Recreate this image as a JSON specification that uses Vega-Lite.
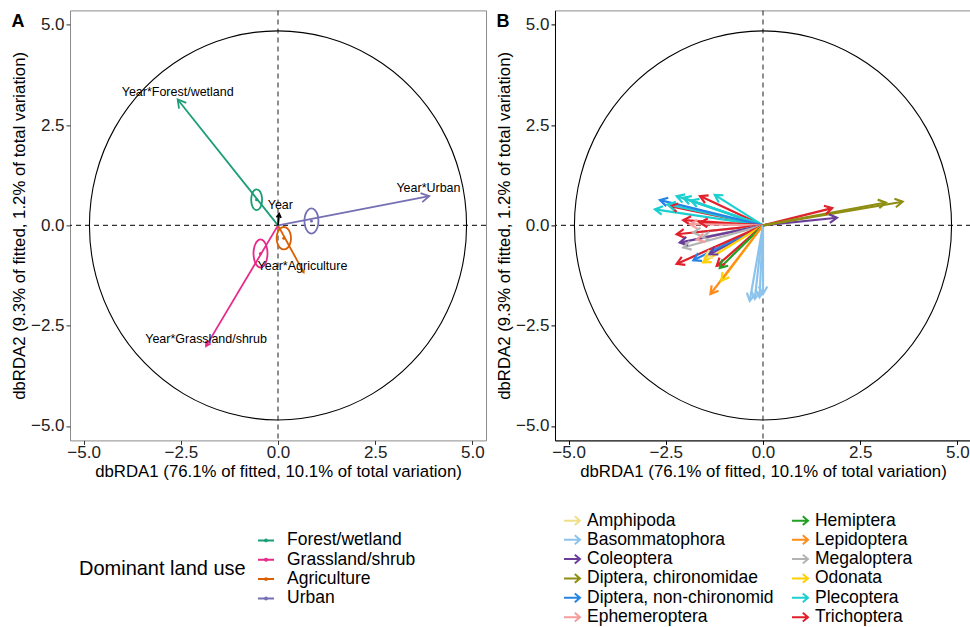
{
"$schema":"https://vega.github.io/schema/vega-lite/v6.json",
"background":"white",
"padding":{"left":10,"top":8.4,"right":0,"bottom":0},
"spacing":7,
"config":{
 "font":"Liberation Sans",
 "view":{"stroke":"#8c8c8c","strokeWidth":1},
 "axis":{"grid":false,"domain":false,"labelFontSize":17,"labelColor":"#222","labelFont":"Liberation Sans","titleFont":"Liberation Sans","titleFontSize":16.8,"titleFontWeight":"normal","titleColor":"#000","tickSize":4,"tickColor":"#333","labelPadding":2,"titlePadding":2,"labelFlush":false,"labelOverlap":false},
 "axisX":{"labelPadding":0,"titlePadding":3.5},
 "legend":{"labelFont":"Liberation Sans","titleFont":"Liberation Sans","labelFontSize":17.5,"labelColor":"#000","padding":0,"rowPadding":1.35,"labelLimit":0}
},
"datasets":{
 "origin":[{"x":0,"y":0}],
 "circle":[
  {"i":0,"x":4.85,"y":0},{"i":1,"x":4.685,"y":1.255},{"i":2,"x":4.2,"y":2.425},{"i":3,"x":3.429,"y":3.429},{"i":4,"x":2.425,"y":4.2},{"i":5,"x":1.255,"y":4.685},
  {"i":6,"x":0,"y":4.85},{"i":7,"x":-1.255,"y":4.685},{"i":8,"x":-2.425,"y":4.2},{"i":9,"x":-3.429,"y":3.429},{"i":10,"x":-4.2,"y":2.425},{"i":11,"x":-4.685,"y":1.255},
  {"i":12,"x":-4.85,"y":0},{"i":13,"x":-4.685,"y":-1.255},{"i":14,"x":-4.2,"y":-2.425},{"i":15,"x":-3.429,"y":-3.429},{"i":16,"x":-2.425,"y":-4.2},{"i":17,"x":-1.255,"y":-4.685},
  {"i":18,"x":0,"y":-4.85},{"i":19,"x":1.255,"y":-4.685},{"i":20,"x":2.425,"y":-4.2},{"i":21,"x":3.429,"y":-3.429},{"i":22,"x":4.2,"y":-2.425},{"i":23,"x":4.685,"y":-1.255}
 ],
 "ellipses":[
  {"landuse":"Forest/wetland","i":0,"x":-0.41,"y":0.64},{"landuse":"Forest/wetland","i":1,"x":-0.429,"y":0.77},{"landuse":"Forest/wetland","i":2,"x":-0.48,"y":0.865},{"landuse":"Forest/wetland","i":3,"x":-0.55,"y":0.9},{"landuse":"Forest/wetland","i":4,"x":-0.62,"y":0.865},{"landuse":"Forest/wetland","i":5,"x":-0.671,"y":0.77},
  {"landuse":"Forest/wetland","i":6,"x":-0.69,"y":0.64},{"landuse":"Forest/wetland","i":7,"x":-0.671,"y":0.51},{"landuse":"Forest/wetland","i":8,"x":-0.62,"y":0.415},{"landuse":"Forest/wetland","i":9,"x":-0.55,"y":0.38},{"landuse":"Forest/wetland","i":10,"x":-0.48,"y":0.415},{"landuse":"Forest/wetland","i":11,"x":-0.429,"y":0.51},
  {"landuse":"Urban","i":0,"x":1.04,"y":0.11},{"landuse":"Urban","i":1,"x":1.016,"y":0.268},{"landuse":"Urban","i":2,"x":0.95,"y":0.383},{"landuse":"Urban","i":3,"x":0.86,"y":0.425},{"landuse":"Urban","i":4,"x":0.77,"y":0.383},{"landuse":"Urban","i":5,"x":0.704,"y":0.268},
  {"landuse":"Urban","i":6,"x":0.68,"y":0.11},{"landuse":"Urban","i":7,"x":0.704,"y":-0.048},{"landuse":"Urban","i":8,"x":0.77,"y":-0.163},{"landuse":"Urban","i":9,"x":0.86,"y":-0.205},{"landuse":"Urban","i":10,"x":0.95,"y":-0.163},{"landuse":"Urban","i":11,"x":1.016,"y":-0.048},
  {"landuse":"Agriculture","i":0,"x":0.335,"y":-0.32},{"landuse":"Agriculture","i":1,"x":0.31,"y":-0.18},{"landuse":"Agriculture","i":2,"x":0.243,"y":-0.078},{"landuse":"Agriculture","i":3,"x":0.15,"y":-0.04},{"landuse":"Agriculture","i":4,"x":0.058,"y":-0.078},{"landuse":"Agriculture","i":5,"x":-0.01,"y":-0.18},
  {"landuse":"Agriculture","i":6,"x":-0.035,"y":-0.32},{"landuse":"Agriculture","i":7,"x":-0.01,"y":-0.46},{"landuse":"Agriculture","i":8,"x":0.058,"y":-0.563},{"landuse":"Agriculture","i":9,"x":0.15,"y":-0.6},{"landuse":"Agriculture","i":10,"x":0.243,"y":-0.563},{"landuse":"Agriculture","i":11,"x":0.31,"y":-0.46},
  {"landuse":"Grassland/shrub","i":0,"x":-0.27,"y":-0.7},{"landuse":"Grassland/shrub","i":1,"x":-0.294,"y":-0.525},{"landuse":"Grassland/shrub","i":2,"x":-0.36,"y":-0.397},{"landuse":"Grassland/shrub","i":3,"x":-0.45,"y":-0.35},{"landuse":"Grassland/shrub","i":4,"x":-0.54,"y":-0.397},{"landuse":"Grassland/shrub","i":5,"x":-0.606,"y":-0.525},
  {"landuse":"Grassland/shrub","i":6,"x":-0.63,"y":-0.7},{"landuse":"Grassland/shrub","i":7,"x":-0.606,"y":-0.875},{"landuse":"Grassland/shrub","i":8,"x":-0.54,"y":-1.003},{"landuse":"Grassland/shrub","i":9,"x":-0.45,"y":-1.05},{"landuse":"Grassland/shrub","i":10,"x":-0.36,"y":-1.003},{"landuse":"Grassland/shrub","i":11,"x":-0.294,"y":-0.875}
 ],
 "centroids":[
  {"landuse":"Forest/wetland","x":-0.55,"y":0.64},{"landuse":"Grassland/shrub","x":-0.45,"y":-0.7},{"landuse":"Agriculture","x":0.15,"y":-0.32},{"landuse":"Urban","x":0.86,"y":0.11}
 ],
 "arrowsA":[
  {"landuse":"Forest/wetland","x":-2.58,"y":3.14},
  {"landuse":"Grassland/shrub","x":-1.85,"y":-3.01},
  {"landuse":"Agriculture","x":0.66,"y":-1.17},
  {"landuse":"Urban","x":3.89,"y":0.73}
 ],
 "yearA":[{"x":0.03,"y":0.29}],
 "labelsA":[
  {"label":"Year*Forest/wetland","x":-2.58,"y":3.33},
  {"label":"Year*Urban","x":3.87,"y":0.93},
  {"label":"Year*Grassland/shrub","x":-1.85,"y":-2.83},
  {"label":"Year*Agriculture","x":0.63,"y":-1.02},
  {"label":"Year","x":0.06,"y":0.5}
 ],
 "arrowsB":[
  {"taxon":"Trichoptera","x":-1.62,"y":0.73},
  {"taxon":"Trichoptera","x":-2.39,"y":0.48},
  {"taxon":"Plecoptera","x":-2.78,"y":0.4},
  {"taxon":"Plecoptera","x":-2.22,"y":0.73},
  {"taxon":"Plecoptera","x":-2.05,"y":0.69},
  {"taxon":"Plecoptera","x":-1.85,"y":0.62},
  {"taxon":"Plecoptera","x":-1.24,"y":0.76},
  {"taxon":"Plecoptera","x":-2.45,"y":0.52},
  {"taxon":"Diptera, non-chironomid","x":-2.65,"y":0.63},
  {"taxon":"Trichoptera","x":-2.05,"y":0.13},
  {"taxon":"Trichoptera","x":-1.62,"y":0.07},
  {"taxon":"Ephemeroptera","x":-1.88,"y":0.03},
  {"taxon":"Megaloptera","x":-1.79,"y":-0.18},
  {"taxon":"Trichoptera","x":-2.22,"y":-0.22},
  {"taxon":"Ephemeroptera","x":-1.7,"y":-0.35},
  {"taxon":"Megaloptera","x":-1.55,"y":-0.3},
  {"taxon":"Coleoptera","x":-2.14,"y":-0.43},
  {"taxon":"Megaloptera","x":-2.05,"y":-0.55},
  {"taxon":"Amphipoda","x":-1.5,"y":-0.8},
  {"taxon":"Coleoptera","x":-1.37,"y":-0.72},
  {"taxon":"Diptera, non-chironomid","x":-1.79,"y":-0.87},
  {"taxon":"Trichoptera","x":-2.22,"y":-0.96},
  {"taxon":"Odonata","x":-1.54,"y":-0.92},
  {"taxon":"Trichoptera","x":-1.19,"y":-1.01},
  {"taxon":"Hemiptera","x":-1.11,"y":-1.06},
  {"taxon":"Odonata","x":-1.07,"y":-1.38},
  {"taxon":"Lepidoptera","x":-1.35,"y":-1.71},
  {"taxon":"Basommatophora","x":-0.34,"y":-1.88},
  {"taxon":"Basommatophora","x":-0.21,"y":-1.83},
  {"taxon":"Basommatophora","x":-0.09,"y":-1.79},
  {"taxon":"Basommatophora","x":0.0,"y":-1.71},
  {"taxon":"Coleoptera","x":1.9,"y":0.19},
  {"taxon":"Trichoptera","x":1.78,"y":0.43},
  {"taxon":"Diptera, chironomidae","x":3.16,"y":0.57},
  {"taxon":"Diptera, chironomidae","x":3.59,"y":0.59}
 ]
},
"resolve":{"scale":{"color":"independent"},"legend":{"color":"independent"}},
"hconcat":[
 {
  "width":416,"height":430,
  "title":{"text":"A","anchor":"start","frame":"bounds","fontSize":18,"fontWeight":"bold","color":"#000","baseline":"top","offset":-21},
  "layer":[
   {"data":{"name":"origin"},"mark":{"type":"rule","strokeDash":[5,4],"color":"#333","strokeWidth":1.1},
    "encoding":{"y":{"field":"y","type":"quantitative","scale":{"domain":[-5.36,5.36],"nice":false,"zero":false},"axis":{"title":"dbRDA2 (9.3% of fitted, 1.2% of total variation)","values":[-5,-2.5,0,2.5,5],"format":".1f"}}}},
   {"data":{"name":"origin"},"mark":{"type":"rule","strokeDash":[5,4],"color":"#333","strokeWidth":1.1},
    "encoding":{"x":{"field":"x","type":"quantitative","scale":{"domain":[-5.35,5.35],"nice":false,"zero":false},"axis":{"title":"dbRDA1 (76.1% of fitted, 10.1% of total variation)","values":[-5,-2.5,0,2.5,5],"format":".1f"}}}},
   {"data":{"name":"circle"},"mark":{"type":"line","interpolate":"cardinal-closed","color":"#000","strokeWidth":1.1},
    "encoding":{"x":{"field":"x","type":"quantitative"},"y":{"field":"y","type":"quantitative"},"order":{"field":"i","type":"quantitative"}}},
   {"data":{"name":"arrowsA"},"mark":{"type":"rule","strokeWidth":1.8,"strokeCap":"butt"},
    "encoding":{"x":{"field":"x","type":"quantitative"},"y":{"field":"y","type":"quantitative"},"x2":{"datum":0},"y2":{"datum":0},
     "color":{"field":"landuse","type":"nominal","scale":{"domain":["Forest/wetland","Grassland/shrub","Agriculture","Urban"],"range":["#1B9E77","#E7298A","#D95F02","#7570B3"]},
      "legend":{"title":"Dominant land use","orient":"none","legendX":9,"legendY":521,"titleOrient":"left","titleAnchor":"middle","titleBaseline":"middle","titleFontSize":20,"titleFontWeight":"normal","titleColor":"#000","titlePadding":11,"symbolType":"M-1,0L1,0M-0.12,0A0.12,0.12,0,1,1,0.12,0A0.12,0.12,0,1,1,-0.12,0","symbolSize":256,"symbolStrokeWidth":2,"labelOffset":12}}}},
   {"data":{"name":"ellipses"},"mark":{"type":"line","interpolate":"cardinal-closed","strokeWidth":1.8},
    "encoding":{"x":{"field":"x","type":"quantitative"},"y":{"field":"y","type":"quantitative"},"order":{"field":"i","type":"quantitative"},"detail":{"field":"landuse","type":"nominal"},
     "color":{"field":"landuse","type":"nominal"}}},
   {"data":{"name":"centroids"},"mark":{"type":"point","filled":true,"size":10,"opacity":1},
    "encoding":{"x":{"field":"x","type":"quantitative"},"y":{"field":"y","type":"quantitative"},"color":{"field":"landuse","type":"nominal"}}},
   {"data":{"name":"yearA"},"mark":{"type":"rule","strokeWidth":1.8,"color":"#000"},
    "encoding":{"x":{"field":"x","type":"quantitative"},"y":{"field":"y","type":"quantitative"},"x2":{"datum":0},"y2":{"datum":0}}},
   {"data":{"name":"arrowsA"},"transform":[{"filter":"datum.landuse=='Forest/wetland' || datum.landuse=='Urban'"},{"calculate":"atan2(datum.x*38.9, datum.y*40.24)*180/PI","as":"ang"}],
    "mark":{"type":"point","shape":"M-0.5,0.866L0,0L0.5,0.866","filled":false,"size":340,"strokeWidth":1.8,"opacity":1},
    "encoding":{"x":{"field":"x","type":"quantitative"},"y":{"field":"y","type":"quantitative"},"angle":{"field":"ang","type":"quantitative","scale":null},"color":{"field":"landuse","type":"nominal"}}},
   {"data":{"name":"arrowsA"},"transform":[{"filter":"datum.landuse=='Grassland/shrub'"},{"calculate":"atan2(datum.x*38.9, datum.y*40.24)*180/PI","as":"ang"}],
    "mark":{"type":"point","shape":"M-0.5,0.866L0,0L0.5,0.866","filled":false,"size":110,"strokeWidth":1.8,"opacity":1},
    "encoding":{"x":{"field":"x","type":"quantitative"},"y":{"field":"y","type":"quantitative"},"angle":{"field":"ang","type":"quantitative","scale":null},"color":{"field":"landuse","type":"nominal"}}},
   {"data":{"name":"arrowsA"},"transform":[{"filter":"datum.landuse=='Agriculture'"},{"calculate":"atan2(datum.x*38.9, datum.y*40.24)*180/PI","as":"ang"}],
    "mark":{"type":"point","shape":"M-0.5,0.866L0,0L0.5,0.866","filled":false,"size":25,"strokeWidth":1.8,"opacity":1},
    "encoding":{"x":{"field":"x","type":"quantitative"},"y":{"field":"y","type":"quantitative"},"angle":{"field":"ang","type":"quantitative","scale":null},"color":{"field":"landuse","type":"nominal"}}},
   {"data":{"name":"yearA"},"transform":[{"calculate":"atan2(datum.x*38.9, datum.y*40.24)*180/PI","as":"ang"}],
    "mark":{"type":"point","shape":"M-0.5,0.866L0,0L0.5,0.866","filled":false,"size":80,"strokeWidth":1.8,"opacity":1,"color":"#000"},
    "encoding":{"x":{"field":"x","type":"quantitative"},"y":{"field":"y","type":"quantitative"},"angle":{"field":"ang","type":"quantitative","scale":null}}},
   {"data":{"name":"labelsA"},"mark":{"type":"text","fontSize":12.5,"font":"Liberation Sans","color":"#000","align":"center","baseline":"middle"},
    "encoding":{"x":{"field":"x","type":"quantitative"},"y":{"field":"y","type":"quantitative"},"text":{"field":"label","type":"nominal"}}}
  ]
 },
 {
  "width":416,"height":430,
  "title":{"text":"B","anchor":"start","frame":"bounds","fontSize":18,"fontWeight":"bold","color":"#000","baseline":"top","offset":-21},
  "layer":[
   {"data":{"name":"origin"},"mark":{"type":"rule","strokeDash":[5,4],"color":"#333","strokeWidth":1.1},
    "encoding":{"y":{"field":"y","type":"quantitative","scale":{"domain":[-5.36,5.36],"nice":false,"zero":false},"axis":{"title":"dbRDA2 (9.3% of fitted, 1.2% of total variation)","values":[-5,-2.5,0,2.5,5],"format":".1f","domain":true,"domainColor":"#000","tickColor":"#000"}}}},
   {"data":{"name":"origin"},"mark":{"type":"rule","strokeDash":[5,4],"color":"#333","strokeWidth":1.1},
    "encoding":{"x":{"field":"x","type":"quantitative","scale":{"domain":[-5.35,5.35],"nice":false,"zero":false},"axis":{"title":"dbRDA1 (76.1% of fitted, 10.1% of total variation)","values":[-5,-2.5,0,2.5,5],"format":".1f","domain":true,"domainColor":"#000","tickColor":"#000"}}}},
   {"data":{"name":"circle"},"mark":{"type":"line","interpolate":"cardinal-closed","color":"#000","strokeWidth":1.1},
    "encoding":{"x":{"field":"x","type":"quantitative"},"y":{"field":"y","type":"quantitative"},"order":{"field":"i","type":"quantitative"}}},
   {"data":{"name":"arrowsB"},"mark":{"type":"rule","strokeWidth":2.2,"strokeCap":"butt"},
    "encoding":{"x":{"field":"x","type":"quantitative"},"y":{"field":"y","type":"quantitative"},"x2":{"datum":0},"y2":{"datum":0},
     "color":{"field":"taxon","type":"nominal",
      "scale":{"domain":["Amphipoda","Basommatophora","Coleoptera","Diptera, chironomidae","Diptera, non-chironomid","Ephemeroptera","Hemiptera","Lepidoptera","Megaloptera","Odonata","Plecoptera","Trichoptera"],
               "range":["#EEE08A","#8CC3EC","#6A3D9A","#8E8E12","#2585E6","#F59C9C","#22A022","#FF8C1A","#B3B3B3","#FFD000","#1CCFD0","#E0202A"]},
      "legend":{"title":null,"orient":"none","legendX":8,"legendY":501,"columns":2,"columnPadding":14,"symbolType":"M-1,0L0.95,0M0.35,-0.55L1,0L0.35,0.55","symbolSize":256,"symbolStrokeWidth":2,"labelOffset":6}}}},
   {"data":{"name":"arrowsB"},"transform":[{"calculate":"atan2(datum.x*39, datum.y*40.24)*180/PI","as":"ang"}],
    "mark":{"type":"point","shape":"M-0.5,0.866L0,0L0.5,0.866","filled":false,"size":300,"strokeWidth":2.2,"opacity":1},
    "encoding":{"x":{"field":"x","type":"quantitative"},"y":{"field":"y","type":"quantitative"},"angle":{"field":"ang","type":"quantitative","scale":null},"color":{"field":"taxon","type":"nominal"}}}
  ]
 }
]
}
